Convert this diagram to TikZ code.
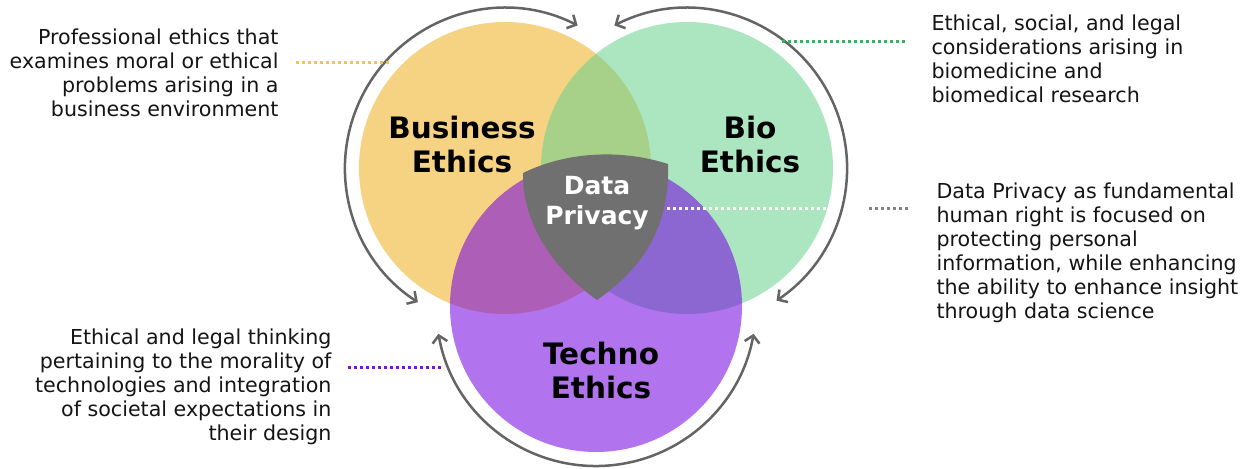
\documentclass[tikz,border=0pt]{standalone}
\usepackage{fontspec}
\setmainfont{DejaVu Sans}
\usepackage{xcolor}
\usetikzlibrary{arrows.meta, positioning}

\definecolor{bizgold}{RGB}{239,173,30}
\definecolor{biogreen}{RGB}{102,209,142}
\definecolor{techpurple}{RGB}{114,0,225}
\definecolor{shieldgray}{RGB}{112,112,112}
\definecolor{arcgray}{RGB}{100,100,100}
\definecolor{dotgold}{RGB}{245,195,70}
\definecolor{dotgreen}{RGB}{50,180,100}
\definecolor{dotpurple}{RGB}{120,20,220}
\definecolor{dotgray}{RGB}{130,130,130}

\begin{document}
\begin{tikzpicture}[x=1pt, y=-1pt,
    ring/.style={circle, minimum size=292pt, inner sep=0pt, fill opacity=0.55},
    title/.style={font=\bfseries\fontsize{29.5}{34}\selectfont, align=center},
    note/.style={font=\fontsize{20.6}{24}\selectfont, text=black!92},
    leader/.style={line width=3pt, dash pattern=on 3pt off 3pt},
    orbit/.style={draw=arcgray, line width=2.5pt, {Straight Barb[length=7pt,width=15pt]}-{Straight Barb[length=7pt,width=15pt]}}
]
    \useasboundingbox (0,0) rectangle (1246,468);

    % Three circles
    \node[ring, fill=bizgold] (biz) at (505,168) {};
    \node[ring, fill=biogreen] (bio) at (687,168) {};
    \node[ring, fill=techpurple] (tech) at (596,306) {};

    % Arcs round the circles
    \draw[orbit] ([shift={(-63:160)}]biz.center) arc[start angle=-63, end angle=-237, radius=160];
    \draw[orbit] ([shift={(-117:160)}]bio.center) arc[start angle=-117, end angle=56, radius=160];
    \draw[orbit] ([shift={(170:160)}]tech.center) arc[start angle=170, end angle=10, radius=160];

    % Shield in the middle
    \fill[shieldgray] (523,173) .. controls (570,150) and (625,150) .. (668,164)
        .. controls (670,230) and (640,270) .. (597,300)
        .. controls (555,270) and (522,225) .. cycle;

    % Labels
    \node[title] (bizlabel) at (462,145) {Business\\Ethics};
    \node[title] (biolabel) at (750,145) {Bio\\Ethics};
    \node[title] (techlabel) at (601,370) {Techno\\Ethics};
    \node[title, text=white, font=\bfseries\fontsize{25}{30}\selectfont] (dp) at (597,203) {Data\\Privacy};

    % Descriptions
    \node[note, anchor=east, align=right] (biznote) at (282,73) {Professional ethics that\\examines moral or ethical\\problems arising in a\\business environment};
    \node[note, anchor=west, align=left] (bionote) at (928,59) {Ethical, social, and legal\\considerations arising in\\biomedicine and\\biomedical research};
    \node[note, anchor=west, align=left] (dpnote) at (933,253) {Data Privacy as fundamental\\human right is focused on\\protecting personal\\information, while enhancing\\the ability to enhance insight\\through data science};
    \node[note, anchor=east, align=right] (technote) at (335,387) {Ethical and legal thinking\\pertaining to the morality of\\technologies and integration\\of societal expectations in\\their design};

    % Dotted leaders
    \coordinate (bizfrom) at (296,63);
    \coordinate (bizto) at (390,63);
    \coordinate (biofrom) at (907,42);
    \coordinate (bioto) at (782,42);
    \coordinate (dpfrom) at (667,208);
    \coordinate (dpto) at (827,208);
    \coordinate (dpgapa) at (869,208);
    \coordinate (dpgapb) at (908,208);
    \coordinate (techfrom) at (348,367);
    \coordinate (techto) at (443,367);
    \draw[leader, draw=dotgold] (bizfrom) -- (bizto);
    \draw[leader, draw=dotgreen] (bioto) -- (biofrom);
    \draw[leader, draw=white] (dpfrom) -- (dpto);
    \draw[leader, draw=dotgray] (dpgapa) -- (dpgapb);
    \draw[leader, draw=dotpurple] (techfrom) -- (techto);
\end{tikzpicture}
\end{document}
